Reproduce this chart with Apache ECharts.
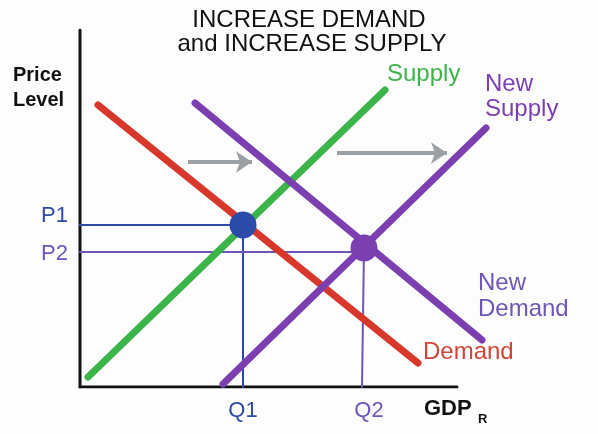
<!DOCTYPE html>
<html><head><meta charset="utf-8">
<script src="https://cdn.jsdelivr.net/npm/echarts@6/dist/echarts.min.js"></script>
<style>html,body{margin:0;padding:0;background:#fdfdfd}#c{width:598px;height:434px}</style>
</head><body><div id="c"></div>
<script>
// Curve endpoints (x = real GDP units, y = price level units)
var demand = [[18, 282], [338, 24]];
var supply = [[8, 10], [305, 297]];
var newSupply = [[143, 3], [406, 259]];
var newDemand = [[115, 284], [402, 47]];
var eq1 = [163, 162];   // P1, Q1
var eq2 = [284, 139];   // P2, Q2
var p2Level = 135;
var shiftArrows = [[[108, 225], [172, 225]], [[257, 234], [367, 234]]];
var axisX = [[0, 0], [377, 0]];
var axisY = [[0, 0], [0, 357]];
var titleLines = ['INCREASE DEMAND', 'and INCREASE SUPPLY'];

var RED = '#d8382b', GREEN = '#3bb449', PURPLE = '#7b3fb0', BLUE = '#2c4aa8', PURPLE2 = '#6f55b6';

function seg(name, data, color, width) {
  return { name: name, type: 'line', data: data, symbol: 'none', silent: true,
    lineStyle: { color: color, width: width, cap: 'round' }, z: 3 };
}
var chart = echarts.init(document.getElementById('c'));
var series = [
  seg('xaxis', axisX, '#111', 3),
  seg('yaxis', axisY, '#111', 3),
  seg('p1h', [[-2, eq1[1]], eq1], BLUE, 2),
  seg('q1v', [eq1, [eq1[0], -5]], BLUE, 2),
  seg('p2h', [[0, p2Level], [eq2[0], p2Level]], PURPLE2, 2),
  seg('q2v', [eq2, [eq2[0] - 2, 0]], PURPLE2, 2),
  seg('Supply', supply, GREEN, 7),
  seg('Demand', demand, RED, 7),
  seg('New Supply', newSupply, PURPLE, 7),
  seg('New Demand', newDemand, PURPLE, 7),
  { type: 'lines', coordinateSystem: 'cartesian2d', silent: true, z: 4,
    symbol: ['none', 'arrow'], symbolSize: 16,
    lineStyle: { color: '#9aa0a4', width: 4, opacity: 1, curveness: 0 },
    data: shiftArrows.map(function (a) { return { coords: a }; }) },
  { type: 'scatter', silent: true, z: 6, symbolSize: 27,
    data: [{ value: eq1, itemStyle: { color: BLUE, opacity: 1 } },
           { value: eq2, itemStyle: { color: PURPLE, opacity: 1 } }] }
];
var F = '"Liberation Sans", Arial, sans-serif';
function txt(t, x, y, size, color, bold, align) {
  return { type: 'text', x: x, y: y, style: { text: t, font: (bold ? 'bold ' : '') + size + 'px ' + F,
    fill: color, align: align || 'left', verticalAlign: 'middle' }, z: 10 };
}
chart.setOption({
  animation: false,
  grid: { left: 80, right: 98, top: 30, bottom: 47 },
  xAxis: { type: 'value', min: 0, max: 420, show: false },
  yAxis: { type: 'value', min: 0, max: 357, show: false },
  series: series,
  graphic: [
    txt(titleLines[0], 309, 20, 24, '#111', false, 'center'),
    txt(titleLines[1], 312, 44, 24, '#111', false, 'center'),
    txt('Price', 13, 75, 20, '#111', true),
    txt('Level', 13, 100, 20, '#111', true),
    txt('P1', 68, 216, 22, BLUE, false, 'right'),
    txt('P2', 68, 254, 22, PURPLE2, false, 'right'),
    txt('Q1', 243, 411, 22, BLUE, false, 'center'),
    txt('Q2', 369, 411, 22, PURPLE2, false, 'center'),
    txt('GDP', 424, 409, 22, '#111', true),
    txt('R', 478, 419, 13, '#111', true),
    txt('Supply', 387, 74, 24, GREEN, false),
    txt('New', 485, 84, 24, PURPLE, false),
    txt('Supply', 485, 109, 24, PURPLE, false),
    txt('New', 478, 283, 24, PURPLE2, false),
    txt('Demand', 478, 309, 24, PURPLE2, false),
    txt('Demand', 423, 352, 24, '#d0443a', false)
  ]
});
</script></body></html>
